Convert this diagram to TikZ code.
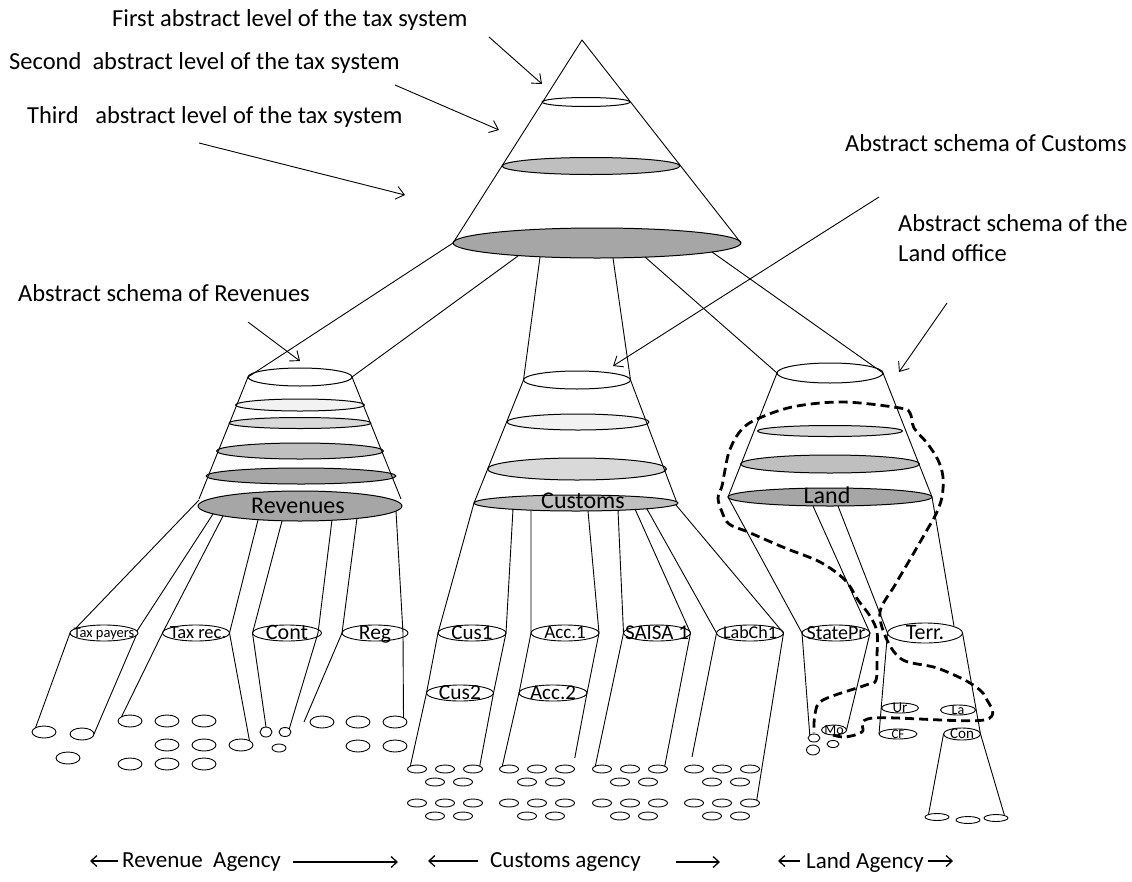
\documentclass[tikz,border=0pt]{standalone}
\usepackage{fontspec}
\setmainfont{Carlito}
\usetikzlibrary{shapes.geometric,arrows.meta,calc}
\definecolor{shadeA}{HTML}{F2F2F2}
\definecolor{shadeB}{HTML}{D9D9D9}
\definecolor{shadeC}{HTML}{BFBFBF}
\definecolor{shadeD}{HTML}{A6A6A6}
\newcommand\setfs[1]{\fontsize{#1}{#1}\selectfont}
\tikzset{
  disc/.style={ellipse, draw, line width=1pt, inner sep=0pt, outer sep=0pt, fill=white},
  pebble/.style={ellipse, draw, line width=0.9pt, inner sep=0pt, outer sep=0pt, fill=white},
  wire/.style={line width=0.9pt},
  pointer/.style={line width=0.9pt, -{Straight Barb[length=8pt,width=13pt]}},
  caption/.style={font=\setfs{24.5}, inner sep=0pt, anchor=west},
  agencytext/.style={font=\setfs{23}, inner sep=0pt, anchor=west},
  agencyarrow/.style={line width=1.3pt, -{Straight Barb[length=6pt,width=11pt]}},
  boundary/.style={line width=2.8pt, dash pattern=on 9pt off 5pt},
  % text whose capitals sit centred on the given point
  tag/.style={font=\setfs{#1}, anchor=base, yshift={-0.31*#1}, inner sep=0pt},
}
\begin{document}
\begin{tikzpicture}[x=1pt,y=-1pt,line join=round]
\useasboundingbox (0,0) rectangle (1132,881);

% ---------- top cone: the three abstract levels ----------
\coordinate (apex) at (582,40);
\node[disc, minimum width=88, minimum height=9] (lvlA) at (586,102) {};
\node[disc, fill=shadeC, minimum width=178, minimum height=17] (lvlB) at (591,166) {};
\node[disc, fill=shadeD, minimum width=288, minimum height=30] (lvlC) at (597,243) {};
\draw[wire] (lvlC.west) -- (apex) -- (lvlC.east);

% ---------- Revenues schema ----------
\node[disc, minimum width=104, minimum height=18] (revtop) at (300,377) {};
\node[disc, fill=shadeA, minimum width=129, minimum height=12] (revB) at (300,405) {};
\node[disc, fill=shadeB, minimum width=142, minimum height=11] (revC) at (300,423) {};
\node[disc, fill=shadeC, minimum width=167, minimum height=16] (revD) at (300,451) {};
\node[disc, fill=shadeD, minimum width=190, minimum height=16] (revE) at (301,476) {};
\draw[wire] (revtop.west) -- (199,499) coordinate (revL);
\draw[wire] (revtop.east) -- (401,499) coordinate (revR);
\node[disc, fill=shadeD, minimum width=204, minimum height=30] (rev) at (300,506) {};
\node[tag=24] (revT) at ($(rev)+(-2,0)$) {Revenues};

% ---------- Customs schema ----------
\node[disc, minimum width=107, minimum height=18] (custop) at (577,380) {};
\node[disc, fill=shadeA, minimum width=142, minimum height=16] (cusB) at (578,422) {};
\node[disc, fill=shadeB, minimum width=179, minimum height=22] (cusC) at (577,469) {};
\draw[wire] (custop.west) -- (474,503);
\draw[wire] (custop.east) -- (677,503);
\node[disc, fill=shadeC, minimum width=204, minimum height=16] (cus) at (576,503) {};
\node[tag=24] (cusT) at ($(cus)+(7,-2)$) {Customs};

% ---------- Land schema ----------
\node[disc, minimum width=106, minimum height=20] (landtop) at (830,373) {};
\node[disc, fill=shadeB, minimum width=145, minimum height=11] (landB) at (830,431) {};
\node[disc, fill=shadeC, minimum width=179, minimum height=18] (landC) at (830,464) {};
\draw[wire] (landtop.west) -- (728,497);
\draw[wire] (landtop.east) -- (932,497);
\node[disc, fill=shadeD, minimum width=204, minimum height=18] (land) at (830,497) {};
\node[tag=24] (landT) at ($(land)+(-3,-1)$) {Land};

% ---------- links from the top cone to the schemas ----------
\draw[wire] (lvlC.west) -- (revtop.west);
\draw[wire] ($(lvlC)+(-79,13)$) -- (revtop.east);
\draw[wire] ($(lvlC)+(-57,14)$) -- (custop.west);
\draw[wire] ($(lvlC)+(16,15)$) -- (custop.east);
\draw[wire] ($(lvlC)+(48,14)$) -- (landtop.west);
\draw[wire] ($(lvlC)+(115,9)$) -- (landtop.east);

% ---------- registers under Revenues ----------
\node[pebble, minimum width=68, minimum height=16] (tp) at (104,633) {};
\node[pebble, minimum width=67, minimum height=16] (trec) at (196,633) {};
\node[pebble, minimum width=69, minimum height=16] (cont) at (287,633) {};
\node[pebble, minimum width=66, minimum height=16] (reg) at (375,633) {};
\node[tag=14.5] (tpT) at (tp) {Tax payers};
\node[tag=18.5] (trecT) at ($(trec)+(2,0)$) {Tax rec.};
\node[tag=22] (contT) at (cont) {Cont};
\node[tag=21.5] (regT) at (reg) {Reg};

\foreach \px/\py [count=\k] in {44/732,82/734,68/758}
  \node[pebble, minimum width=24, minimum height=12] (ro\k) at (\px,\py) {};
\foreach \px/\py [count=\k] in {130/721,167/721,204/721,167/745,204/745,241/745,130/764,167/764,204/764}
  \node[pebble, minimum width=24, minimum height=12] (rg\k) at (\px,\py) {};
\node[pebble, minimum width=12, minimum height=10] (rc1) at (266,732) {};
\node[pebble, minimum width=12, minimum height=9] (rc2) at (285,732) {};
\node[pebble, minimum width=14, minimum height=8] (rc3) at (279,748) {};
\foreach \px/\py [count=\k] in {322/722,358/722,395/722,358/746,395/746}
  \node[pebble, minimum width=24, minimum height=12] (rr\k) at (\px,\py) {};

\draw[wire] ($(rev)+(-101,-6)$) -- ($(tp)+(-29,-4)$);
\draw[wire] ($(rev)+(-87,8)$) -- ($(tp)+(33,-2)$);
\draw[wire] ($(rev)+(-77,10)$) -- (trec.west) -- (rg1.north west);
\draw[wire] ($(rev)+(-42,14)$) -- (trec.east) -- (rg6.north east);
\draw[wire] ($(rev)+(-18,15)$) -- (cont.west) -- (rc1.north);
\draw[wire] ($(rev)+(32,14)$) -- ($(cont)+(31,0)$) -- (rc2.north east);
\draw[wire] ($(rev)+(57,12)$) -- (reg.west) -- ($(rr1.west)+(-6,0)$);
\draw[wire] ($(rev)+(96,5)$) -- ($(reg)+(28,0)$) -- (rr3.north east);
\draw[wire] (tp.west) -- (ro1.north west);
\draw[wire] ($(tp)+(32,3)$) -- (ro2.east);

% ---------- registers under Customs ----------
\node[pebble, minimum width=68, minimum height=16] (cusA) at (472,633) {};
\node[pebble, minimum width=68, minimum height=16] (accA) at (565,633) {};
\node[pebble, minimum width=67, minimum height=16] (saisa) at (657,633) {};
\node[pebble, minimum width=67, minimum height=16] (labch) at (750,633) {};
\node[pebble, minimum width=67, minimum height=16] (cusZ) at (460,693) {};
\node[pebble, minimum width=68, minimum height=16] (accZ) at (553,693) {};
\node[tag=21] (cusAT) at (cusA) {Cus1};
\node[tag=19] (accAT) at (accA) {Acc.1};
\node[tag=21] (saisaT) at (saisa) {SAISA 1};
\node[tag=18] (labchT) at (labch) {LabCh1};
\node[tag=21.5] (cusZT) at (cusZ) {Cus2};
\node[tag=21] (accZT) at (accZ) {Acc.2};

\foreach \g/\dx in {0/0,1/92,2/185,3/277}{
  \foreach \px/\py [count=\k] in {417/769,445/769,473/769,435/782,463/782,417/803,445/803,473/803,435/816,463/816}
    \node[pebble, minimum width=19, minimum height=8] (cg\g-\k) at (\px+\dx,\py) {};
}

\draw[wire] (cus.west) -- (cusA.west) -- (cusZ.west) -- (cg0-1.north west);
\draw[wire] ($(cus)+(-63,6)$) -- (cusA.east) -- (cusZ.east) -- (cg0-3.north east);
\draw[wire] ($(cus)+(-45,7)$) -- (accA.west) -- (accZ.west) -- (cg1-1.north west);
\draw[wire] ($(cus)+(12,8)$) -- (accA.east) -- (accZ.east) -- ($(cg1-3.north east)+(3,-8)$);
\draw[wire] ($(cus)+(42,7)$) -- (saisa.west) -- (cg2-1.north west);
\draw[wire] ($(cus)+(59,6)$) -- (saisa.east) -- (cg2-3.north east);
\draw[wire] ($(cus)+(71,6)$) -- (labch.west) -- ($(cg3-1.north)+(-2,-8)$);
\draw[wire] ($(cus)+(100,2)$) -- (labch.east) -- (cg3-8.north east);

% ---------- registers under Land ----------
\node[pebble, minimum width=68, minimum height=16] (statepr) at (836,633) {};
\node[pebble, minimum width=75, minimum height=20] (terr) at (925,633) {};
\node[pebble, minimum width=37, minimum height=10] (ur) at (900,708) {};
\node[pebble, minimum width=35, minimum height=10] (la) at (958,710) {};
\node[pebble, minimum width=38, minimum height=10] (cf) at (898,734) {};
\node[pebble, minimum width=37, minimum height=12] (con) at (962,734) {};
\node[pebble, minimum width=25, minimum height=10] (mo) at (834,730) {};
\node[tag=20] (stateprT) at (statepr) {StatePr};
\node[tag=22] (terrT) at (terr) {Terr.};
\node[tag=15] (urT) at (ur) {Ur};
\node[tag=14] (laT) at (la) {La};
\node[tag=13] (cfT) at (cf) {CF};
\node[tag=15] (conT) at (con) {Con};
\node[tag=14] (moT) at (mo) {Mo};
\node[pebble, minimum width=12, minimum height=8] (lo1) at (814,738) {};
\node[pebble, minimum width=13, minimum height=10] (lo2) at (813,750) {};
\node[pebble, minimum width=12, minimum height=7] (lo3) at (833,744) {};
\node[pebble, minimum width=24, minimum height=7] (co1) at (937,817) {};
\node[pebble, minimum width=24, minimum height=7] (co2) at (968,820) {};
\node[pebble, minimum width=24, minimum height=7] (co3) at (996,818) {};

\draw[wire] (land.west) -- (statepr.west) -- (lo1.north west);
\draw[wire] ($(land)+(-17,9)$) -- (statepr.east) -- (mo.east);
\draw[wire] ($(land)+(8,9)$) -- (terr.west) -- (cf.west);
\draw[wire] (land.east) -- ($(terr)+(29,-7)$);
\draw[wire] (terr.east) -- (con.east) -- (co3.north east);
\draw[wire] (con.west) -- (co1.north west);

% ---------- dashed boundary around the Land office ----------
\draw[boundary] plot[smooth, tension=0.55] coordinates {
  (833,735) (845,737) (862,732) (873,718) (984,720) (986,698) (970,683)
  (937,668) (903,660) (887,640) (880,612) (895,585) (912,556) (927,530)
  (936,514) (942,497) (943,477) (938,460) (927,443) (914,428) (910,413)
  (900,408) (843,402) (792,407) (753,421) (738,434) (729,452) (725,470)
  (722,486) (718,498) (722,512) (729,524) (748,532) (785,548) (820,562)
  (845,580) (858,600) (870,616) (877,632) (877,655) (876,680) (866,685)
  (823,700) (815,714) (814,733)};

% ---------- captions and their pointers ----------
\node[caption] (capA) at (112,20) {First abstract level of the tax system};
\node[caption] (capB) at (9,63) {Second\ \ abstract level of the tax system};
\node[caption] (capC) at (27,117) {Third\ \ \ abstract level of the tax system};
\node[caption] (capCus) at (845,143) {Abstract schema of Customs};
\node[caption, align=left] (capLand) at (898,238) {Abstract schema of the\\[5pt]Land office};
\node[caption] (capRev) at (18,293) {Abstract schema of Revenues};

\coordinate (pA1) at (489,37);  \coordinate (pA2) at (542,84);
\coordinate (pB1) at (395,85);  \coordinate (pB2) at (499,130);
\coordinate (pC1) at (199,143); \coordinate (pC2) at (405,195);
\coordinate (pU1) at (879,197); \coordinate (pU2) at (613,366);
\coordinate (pL1) at (947,303); \coordinate (pL2) at (899,372);
\coordinate (pR1) at (248,322); \coordinate (pR2) at (300,361);
\draw[pointer] (pA1) -- (pA2);
\draw[pointer] (pB1) -- (pB2);
\draw[pointer] (pC1) -- (pC2);
\draw[pointer] (pU1) -- (pU2);
\draw[pointer] (pL1) -- (pL2);
\draw[pointer] (pR1) -- (pR2);

% ---------- agencies along the bottom ----------
\node[agencytext] (agRev) at (122,862) {Revenue\ \ Agency};
\node[agencytext] (agCus) at (490,862) {Customs agency};
\node[agencytext] (agLand) at (806,862) {Land Agency};
\coordinate (b1) at (118,861); \coordinate (b2) at (90,861);
\coordinate (b3) at (293,862); \coordinate (b4) at (398,862);
\coordinate (b5) at (478,861); \coordinate (b6) at (428,861);
\coordinate (b7) at (676,862); \coordinate (b8) at (720,862);
\coordinate (b9) at (800,861); \coordinate (b10) at (778,861);
\coordinate (b11) at (928,861); \coordinate (b12) at (953,861);
\draw[agencyarrow] (b1) -- (b2);
\draw[agencyarrow] (b3) -- (b4);
\draw[agencyarrow] (b5) -- (b6);
\draw[agencyarrow] (b7) -- (b8);
\draw[agencyarrow] (b9) -- (b10);
\draw[agencyarrow] (b11) -- (b12);
\end{tikzpicture}
\end{document}
